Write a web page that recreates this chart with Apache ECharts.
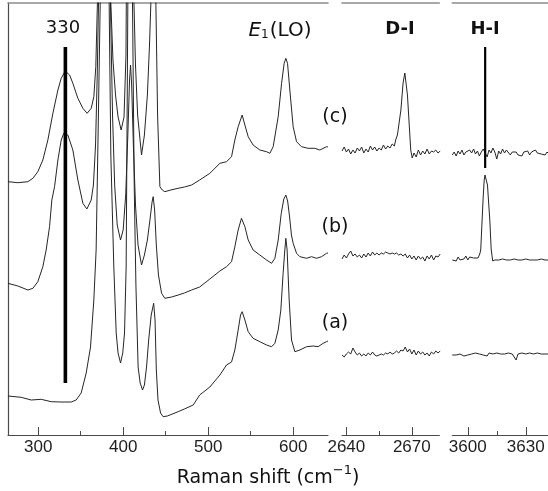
<!DOCTYPE html>
<html><head><meta charset="utf-8">
<script src="https://cdn.jsdelivr.net/npm/echarts@6/dist/echarts.min.js"></script>
<style>html,body{margin:0;padding:0;background:#fff}#c{width:548px;height:491px}</style>
</head><body><div id="c"></div>
<script>
// ---- Data (Raman shift in cm^-1, intensity in arbitrary units, traces offset for display) ----
const tickMain1 = [300, 400, 500, 600];
const tickMinor1 = [350, 450, 550];
const tickMain2 = [2640, 2670];
const tickMinor2 = [2655];
const tickMain3 = [3600, 3630];
const tickMinor3 = [3615];

// Panel 1 (low-frequency phonons)
const traceA1 = [[264.4,39],[280,37.7],[291.8,35],[303.5,35.7],[315.3,33.3],[327.1,33],[338.8,33],[344.7,35],[350.6,42],[356.5,62],[361.6,88],[365.5,135],[368.2,185],[370.5,300],[373,432],[375.5,700],[379,1200],[382,700],[383.5,432],[385.5,280],[389,168],[391.8,102],[394,82],[396.9,72],[399.5,82],[401.6,102],[403.5,168],[405.5,432],[408,1000],[411,432],[413,250],[415,150],[417.6,68],[420,52],[422.8,45],[425,50],[427.5,68],[430,95],[433,120],[435.9,131.7],[437.5,115],[439,65],[441,35],[444,22],[447,18.3],[452,19],[464.7,23.3],[472,26],[482.4,30],[490,40],[502,48],[513.8,60],[521.6,70],[527.5,73],[531.4,85],[535.3,105],[538.1,120],[540,123.3],[543.2,115],[547.1,103.3],[552.9,96.7],[560.8,93.3],[568.7,90],[574.6,88.3],[578.5,91.7],[582.4,105],[585.5,125],[588.2,161.7],[590.2,185],[591.4,196.7],[592.9,185],[595.3,135],[598.1,95],[602,83.3],[607.9,85],[615.8,88.3],[623.5,89],[629.4,88.3],[635.3,91.7],[639.3,93.3],[641,94]];
const traceB1 = [[264.4,151.7],[276.1,149],[287.9,145],[293.8,146.7],[299.6,153.3],[305.5,168.3],[309.4,185],[313.4,208.3],[316.1,235],[319.3,248.3],[323.2,275],[327.1,295],[330.2,301.7],[334.9,300],[340.8,285],[346.7,255],[352.6,231.7],[357.3,226],[362.4,235],[365,250],[367.5,290],[369.5,360],[371,432],[374,700],[378,1200],[382,700],[385,432],[387.5,320],[390,250],[393,210],[396.9,195],[400,205],[403,240],[405.5,300],[407.5,355],[408.7,370],[410,350],[412,290],[414.5,230],[417.5,190],[421.6,170],[425,180],[428.5,195],[431.5,215],[434,233],[435.3,238.3],[437,225],[439,190],[441.5,160],[445.2,141.7],[449,136.7],[457,138],[464.7,140],[472,142],[480.5,145],[490,148],[502,156],[513.8,164],[521.6,168.3],[527.5,173.3],[531.4,188.3],[535.3,205],[539.2,216.7],[543.2,208.3],[547.1,195],[552.9,185],[560.8,180],[568.7,175],[574.6,171.7],[578.5,176.7],[582.4,195],[586,221.7],[589,236],[591.4,240],[593.5,234],[595.8,218],[598,200],[600,191.7],[604,181.7],[607.9,178.3],[615.8,176.7],[621.6,178.3],[627.5,176.7],[633.4,178.3],[639.3,181.7],[641,182]];
const traceC1 = [[264.4,253.3],[276.1,252.3],[287.9,253.3],[293.8,256.7],[299.6,263.3],[305.5,275],[311.4,295],[317.3,321.7],[323.2,345],[327.1,356.7],[331.8,364],[337,360],[340.8,351.7],[346.7,336.7],[352.6,326.7],[357.6,321.7],[362.4,326.7],[365.5,338.3],[367.8,368.3],[369.7,432],[372,600],[378,1200],[384,600],[385.5,432],[388,375],[391,340],[394,318],[397.6,305],[401,318],[403.3,380],[405,600],[408,1200],[411,600],[412.7,432],[414.5,370],[417,320],[421.6,280],[425,300],[428.5,340],[431,390],[432.6,432],[435.5,1200],[438.5,432],[440.5,320],[443.2,248.3],[446,245],[449,243.3],[456,245],[464.7,246.7],[472,248],[480.5,250],[490,255],[502,261.7],[513.8,271.7],[521.6,273.3],[527.5,278.3],[531.4,295],[535.3,308.3],[540,320],[543.2,310],[547.1,298.3],[552.9,290],[560.8,285],[568.7,283.3],[572.6,281.7],[576.5,288.3],[582.4,318.3],[586.4,351.7],[589.4,371.7],[591.4,376.7],[593.4,371.7],[596.1,345],[600,308.3],[604,293.3],[609.8,288.3],[617.6,286.7],[625.5,286.7],[631.4,285],[639.3,288.3],[641,288]];

// Panel 2 (D-I region)
const d2x = [2638,2639,2640,2641,2642,2643,2644,2645,2646,2647,2648,2649,2650,2651,2652,2653,2654,2655,2656,2657,2658,2659,2660,2661,2662,2663,2664,2665,2666,2667,2668,2669,2670,2671,2672,2673,2674,2675,2676,2677,2678,2679,2680,2681,2682,2683];
const traceA2 = [80,78,81,83,81,87,83,80,82,79,81,79,82,80,83,80,79,80,81,80,82,81,83,81,82,84,82,85,84,88,83,86,81,85,80,84,81,83,80,82,79,83,81,84,82,84];
const traceB2 = [176,180,177,181,184,179,181,178,180,177,181,178,182,179,183,180,182,180,182,181,183,182,181,182,181,182,180,181,179,181,177,180,176,179,175,179,176,178,174,179,176,180,175,179,178,181];
const traceC2 = [[2638,284],[2639,288],[2640,283],[2641,286],[2642,281],[2643,285],[2644,282],[2645,287],[2646,284],[2647,288],[2648,282],[2649,286],[2650,283],[2651,289],[2652,285],[2653,288],[2654,284],[2655,287],[2656,285],[2657,290],[2658,286],[2659,289],[2660,287],[2661,291],[2662,289],[2662.6,295],[2663.4,300],[2664,302],[2665,325],[2666,352],[2666.8,362],[2667.5,360],[2668,340],[2668.6,318],[2669.5,285],[2670.2,277],[2671,282],[2672,278],[2673,285],[2674,280],[2675,284],[2676,281],[2677,286],[2678,281],[2679,284],[2680,283],[2681,285],[2682,282],[2683,284]];

// Panel 3 (H-I region)
const h3x = [3592,3593,3594,3595,3596,3597,3598,3599,3600,3601,3602,3603,3604,3605,3606,3607,3608,3609,3610,3611,3612,3613,3614,3615,3616,3617,3618,3619,3620,3621,3622,3623,3624,3625,3626,3627,3628,3629,3630,3631,3632,3633,3634,3635,3636,3637,3638,3639,3640,3641,3642];
const traceA3 = [80,81,80,79,81,80,79,81,80,79,81,80,82,80,81,79,80,81,79,82,80,81,80,82,80,81,79,81,80,82,80,81,79,75,81,80,82,80,81,80,82,80,81,80,82,80,81,80,81,80,81];
const traceB3 = [[3592,175],[3593,177],[3594,174],[3595,178],[3596,175],[3597,177],[3598,176],[3599,179],[3600,175],[3601,178],[3602,176],[3603,177],[3604,178],[3605.3,177],[3606.2,181],[3606.7,185],[3607.3,210],[3607.9,235],[3608.5,255],[3608.9,260],[3609.6,258],[3610.2,250],[3610.8,232],[3611.4,215],[3612.1,186],[3612.9,174],[3614,175],[3615,174],[3616,175],[3617,173],[3618,176],[3619,174],[3620,175],[3621,174],[3622,175],[3623,174],[3624,176],[3625,174],[3626,175],[3627,173],[3628,175],[3629,174],[3630,176],[3631,174],[3632,175],[3633,174],[3634,175],[3635,173],[3636,175],[3637,174],[3638,176],[3639,174],[3640,175],[3641,174],[3642,175]];
const traceC3 = [280,283,279,284,281,285,280,283,281,285,282,286,281,284,279,283,286,282,278,285,282,287,283,276,284,281,286,282,285,283,280,283,281,283,280,282,279,283,281,284,280,283,281,285,282,284,281,283,280,283,281];

// Marker lines
const marker330 = [[332,52],[332,388]];
const markerHI = [[3609,267],[3609,388]];

// ---- Chart ----
const pair = (xs, ys) => xs.map((x, i) => [x, ys[i]]);
const G = [
  {left: 8, right: 220, top: 3, bottom: 56, min: 264.5, max: 641, major: tickMain1, minor: tickMinor1, yLine: true},
  {left: 342, right: 108.7, top: 3, bottom: 56, min: 2638, max: 2682.6, major: tickMain2, minor: tickMinor2, yLine: false},
  {left: 452.3, right: 0, top: 3, bottom: 56, min: 3592, max: 3641.5, major: tickMain3, minor: tickMinor3, yLine: false}
];
const axisCol = '#4a4a4a';
const grid = [], xAxis = [], yAxis = [];
G.forEach((g, i) => {
  grid.push({left: g.left, right: g.right, top: g.top, bottom: g.bottom});
  grid.push({left: g.left, right: g.right, top: g.top, bottom: g.bottom});
  const gi = 2 * i, go = 2 * i + 1;
  xAxis.push({type: 'value', gridIndex: gi, position: 'bottom', min: g.min, max: g.max,
    axisLine: {show: true, lineStyle: {color: axisCol, width: 1.2}},
    axisTick: {show: true, inside: true, length: 8, customValues: g.major, lineStyle: {color: axisCol, width: 1}},
    axisLabel: {show: true, customValues: g.major, margin: 4, fontFamily: 'Liberation Sans', fontSize: 17, color: '#1e1e1e',
      formatter: v => String(v)},
    splitLine: {show: false}});
  xAxis.push({type: 'value', gridIndex: gi, position: 'top', min: g.min, max: g.max,
    axisLine: {show: true, lineStyle: {color: '#8c8c8c', width: 1.6}},
    axisTick: {show: false}, axisLabel: {show: false}, splitLine: {show: false}});
  xAxis.push({type: 'value', gridIndex: go, position: 'bottom', min: g.min, max: g.max,
    axisLine: {show: false},
    axisTick: {show: true, inside: true, length: 4, customValues: g.minor, lineStyle: {color: axisCol, width: 1}},
    axisLabel: {show: false}, splitLine: {show: false}});
  yAxis.push({type: 'value', gridIndex: gi, min: 0, max: 432,
    axisLine: {show: g.yLine, lineStyle: {color: axisCol, width: 1.2}},
    axisTick: {show: false}, axisLabel: {show: false}, splitLine: {show: false}});
  yAxis.push({type: 'value', gridIndex: go, min: 0, max: 432, show: false});
});

const lineSeries = (data, panel, width, color) => ({
  type: 'line', data: data, xAxisIndex: panel * 3, yAxisIndex: panel * 2,
  showSymbol: false, symbol: 'none', animation: false, clip: true,
  lineStyle: {color: color || '#262626', width: width || 1}, z: 3
});

const series = [
  lineSeries(traceA1, 0), lineSeries(traceB1, 0), lineSeries(traceC1, 0),
  lineSeries(pair(d2x, traceA2), 1), lineSeries(pair(d2x, traceB2), 1), lineSeries(traceC2, 1),
  lineSeries(pair(h3x, traceA3), 2), lineSeries(traceB3, 2), lineSeries(pair(h3x, traceC3), 2),
  lineSeries(marker330, 0, 3.6, '#000'),
  lineSeries(markerHI, 2, 2.2, '#000')
];

const annFont = 'DejaVu Sans';
const txt = (text, x, y, extra) => ({type: 'text', x: x, y: y, z: 10,
  style: Object.assign({text: text, align: 'center', verticalAlign: 'middle', fill: '#111',
    font: '19px "' + annFont + '"'}, extra || {})});

const graphic = [
  txt('330', 63, 28, {font: '18px "' + annFont + '"'}),
  {type: 'text', x: 280, y: 29, z: 10, style: {text: '{e|E}{s|1}{n|(LO)}', align: 'center', verticalAlign: 'middle', fill: '#111',
    rich: {e: {fontFamily: annFont, fontStyle: 'italic', fontSize: 20, lineHeight: 24, verticalAlign: 'bottom'},
           s: {fontFamily: annFont, fontSize: 12, lineHeight: 24, verticalAlign: 'bottom', padding: [0,1,0,0]},
           n: {fontFamily: annFont, fontSize: 20, lineHeight: 24, verticalAlign: 'bottom'}}}},
  txt('D-I', 400, 29, {font: 'bold 18px "' + annFont + '"'}),
  txt('H-I', 485, 29, {font: 'bold 18px "' + annFont + '"'}),
  txt('(c)', 335, 117),
  txt('(b)', 335, 227),
  txt('(a)', 335, 323),
  {type: 'text', x: 268, y: 476, z: 10, style: {text: '{t|Raman shift (cm}{p|\u22121}{t|)}', align: 'center', verticalAlign: 'middle', fill: '#111',
    rich: {t: {fontFamily: annFont, fontSize: 19, lineHeight: 24, verticalAlign: 'bottom'},
           p: {fontFamily: annFont, fontSize: 13, lineHeight: 24, verticalAlign: 'top'}}}}
];

const chart = echarts.init(document.getElementById('c'), null, {renderer: 'canvas'});
chart.setOption({animation: false, backgroundColor: '#fff', grid, xAxis, yAxis, series, graphic});
</script></body></html>
